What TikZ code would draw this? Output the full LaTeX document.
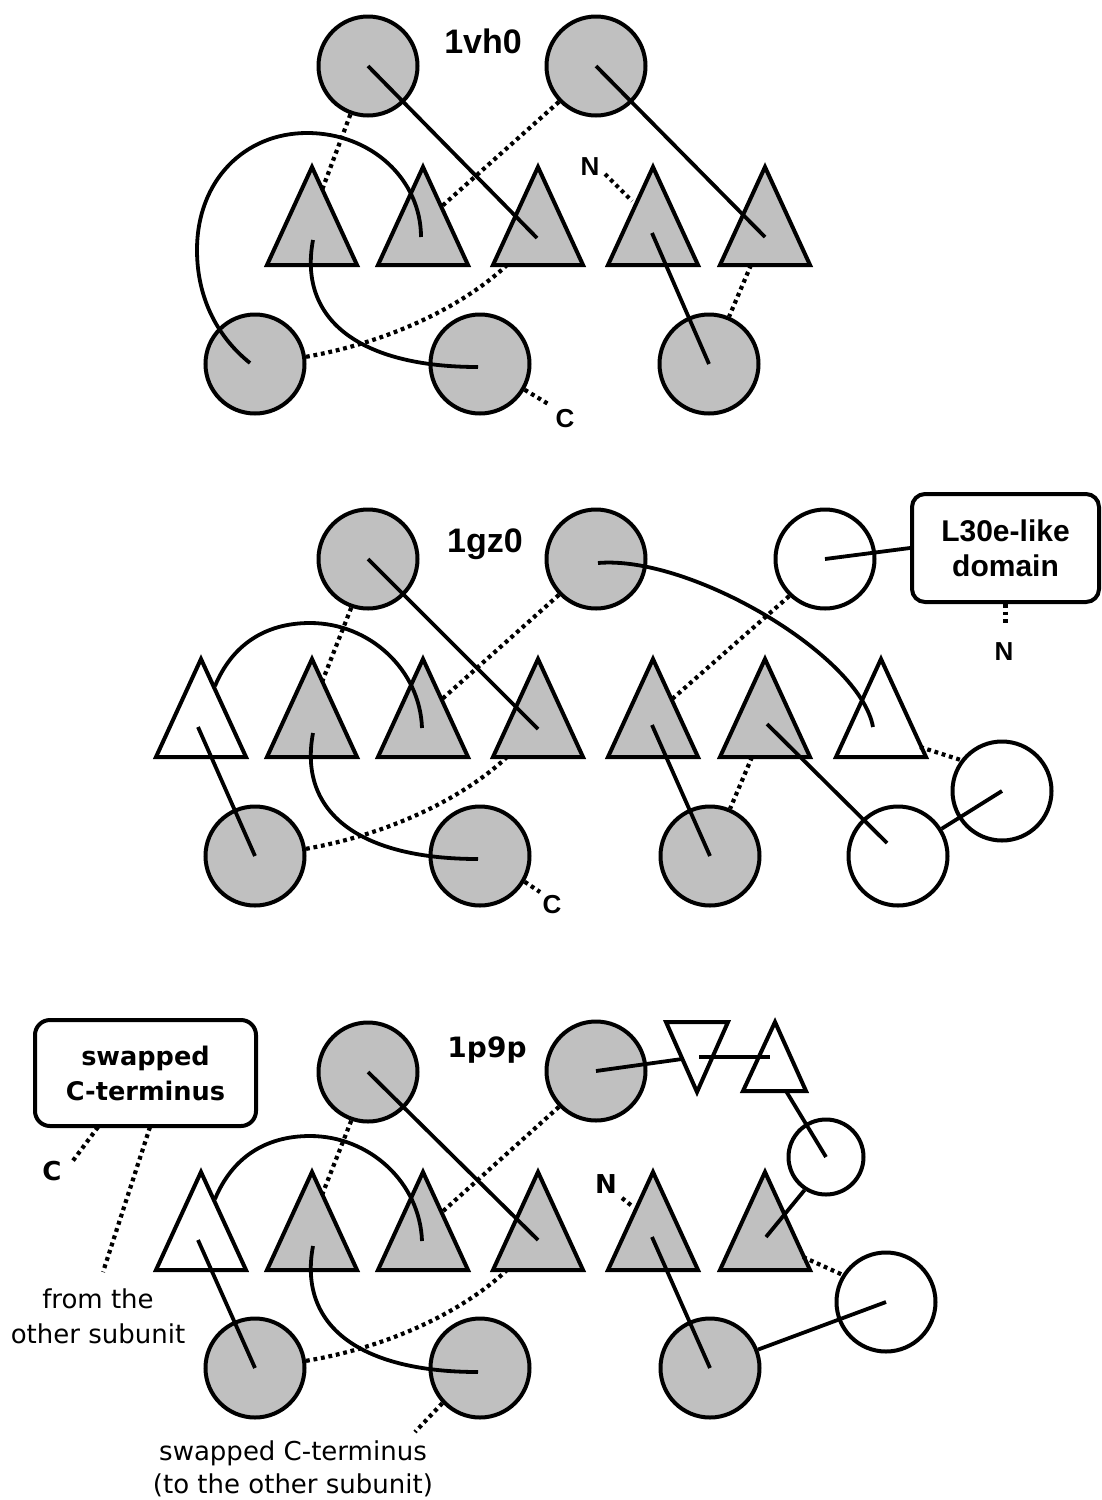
\documentclass[tikz,border=0pt]{standalone}
\usepackage{fontspec}
\setmainfont{Liberation Sans}
\newfontfamily\dvs{DejaVu Sans}
\usetikzlibrary{calc}
\definecolor{shade}{RGB}{192,192,192}
\tikzset{
  shp/.style={line width=2pt,draw=black},
  gc/.style={circle,shp,fill=shade,minimum size=49.5pt,inner sep=0pt},
  wc/.style={circle,shp,fill=white,minimum size=49.5pt,inner sep=0pt},
  sc/.style={circle,shp,fill=white,minimum size=37.5pt,inner sep=0pt},
  con/.style={line width=1.9pt},
  dotc/.style={line width=2.1pt,dash pattern=on 1.9pt off 1.9pt},
  pid/.style={font=\bfseries\fontsize{17}{20}\selectfont,anchor=base,inner sep=0pt},
  pidb/.style={font=\dvs\bfseries\fontsize{14}{17}\selectfont,anchor=base,inner sep=0pt},
  term/.style={font=\bfseries\fontsize{13}{15}\selectfont,anchor=base,inner sep=0pt},
  termb/.style={font=\dvs\bfseries\fontsize{13}{15}\selectfont,anchor=base,inner sep=0pt},
  note/.style={font=\dvs\fontsize{13}{16}\selectfont,anchor=base,inner sep=0pt},
  callout/.style={shp,fill=white,rounded corners=6.5pt,inner sep=0pt,align=center}
}
\newcommand\mytri[4]{%
  \filldraw[shp,fill=#4] (#2-45,#3) -- (#2,#3-98) -- (#2+45,#3) -- cycle;
  \coordinate (#1) at (#2,#3);}
\begin{document}
\begin{tikzpicture}[x=0.5pt,y=-0.5pt]
\path[fill=white] (0,0) rectangle (1102,1500);
\useasboundingbox (0,0) rectangle (1102,1500);

% ================= panel 1: 1vh0 =================
\mytri{t11}{312}{265}{shade}
\mytri{t12}{423}{265}{shade}
\mytri{t13}{538}{265}{shade}
\mytri{t14}{653}{265}{shade}
\mytri{t15}{765}{265}{shade}
\node[gc] (a1) at (368,66) {};
\node[gc] (b1) at (596,66) {};
\node[gc] (c11) at (255,364) {};
\node[gc] (c12) at (480,364) {};
\node[gc] (c13) at (709,364) {};
\node[pid] (id1) at (483,53) {1vh0};
\node[term] (n1) at (590,175) {N};
\node[term] (cc1) at (565,427) {C};

\coordinate (p1a) at (537,238);
\coordinate (p1b) at (765,237);
\coordinate (p1c) at (322,190);
\coordinate (p1d) at (441,207);
\coordinate (p1e) at (250,363);
\coordinate (p1f) at (421,237);
\coordinate (p1g) at (313,240);
\coordinate (p1h) at (478,367);
\coordinate (p1i) at (507,265);
\coordinate (p1j) at (550,405);
\coordinate (p1k) at (605,174);
\coordinate (p1l) at (632,201);
\coordinate (p1m) at (652,233);
\coordinate (p1n) at (751,265);

\draw[con] (a1.center) -- (p1a);
\draw[con] (b1.center) -- (p1b);
\draw[dotc] (a1.-110) -- (p1c);
\draw[dotc] (b1.-136) -- (p1d);
\draw[con] (p1e) .. controls (215,335) and (197,295) .. (197,250)
  .. controls (197,180) and (245,133) .. (307,133)
  .. controls (372,133) and (421,180) .. (p1f);
\draw[con] (p1g) .. controls (298,320) and (360,367) .. (p1h);
\draw[dotc] (c11.8) .. controls (400,340) and (470,300) .. (p1i);
\draw[dotc] (c12.-30) -- (p1j);
\draw[dotc] (p1k) -- (p1l);
\draw[con] (p1m) -- (c13.center);
\draw[dotc] (p1n) -- (c13.67);

% ================= panel 2: 1gz0 =================
\mytri{t21}{201}{757}{white}
\mytri{t22}{312}{757}{shade}
\mytri{t23}{423}{757}{shade}
\mytri{t24}{538}{757}{shade}
\mytri{t25}{653}{757}{shade}
\mytri{t26}{765}{757}{shade}
\mytri{t27}{881}{757}{white}
\node[gc] (a2) at (368,559) {};
\node[gc] (b2) at (596,559) {};
\node[wc] (w21) at (825,559) {};
\node[gc] (c21) at (255,856) {};
\node[gc] (c22) at (480,856) {};
\node[gc] (c23) at (710,856) {};
\node[wc] (w22) at (898,856) {};
\node[wc] (w23) at (1002,791) {};
\node[callout,minimum width=93.5pt,minimum height=54pt,
  font=\bfseries\fontsize{15}{17.5}\selectfont] (bx2) at (1005.5,548) {L30e-like\\domain};
\node[pid] (id2) at (485,552) {1gz0};
\node[term] (cc2) at (552,913) {C};
\node[term] (n2) at (1004,660) {N};

\coordinate (p2a) at (538,729);
\coordinate (p2b) at (322,682);
\coordinate (p2c) at (441,700);
\coordinate (p2d) at (215,686);
\coordinate (p2e) at (422,728);
\coordinate (p2f) at (313,733);
\coordinate (p2g) at (478,859);
\coordinate (p2h) at (198,727);
\coordinate (p2i) at (507,757);
\coordinate (p2j) at (540,892);
\coordinate (p2k) at (598,563);
\coordinate (p2l) at (873,727);
\coordinate (p2m) at (1005.5,624);
\coordinate (p2n) at (671,700);
\coordinate (p2o) at (652,725);
\coordinate (p2p) at (752,757);
\coordinate (p2q) at (767,724);
\coordinate (p2r) at (887,843);
\coordinate (p2s) at (920,747);

\draw[con] (a2.center) -- (p2a);
\draw[dotc] (a2.-109) -- (p2b);
\draw[dotc] (b2.-136) -- (p2c);
\draw[con] (p2d) .. controls (232,645) and (265,623) .. (310,623)
  .. controls (370,623) and (420,670) .. (p2e);
\draw[con] (p2f) .. controls (298,813) and (360,859) .. (p2g);
\draw[con] (p2h) -- (c21.center);
\draw[dotc] (c21.8) .. controls (400,832) and (470,792) .. (p2i);
\draw[dotc] (c22.-30) -- (p2j);
\draw[con] (p2k) .. controls (690,555) and (860,655) .. (p2l);
\draw[con] (w21.center) -- (bx2.west);
\draw[dotc] (bx2.south) -- (p2m);
\draw[dotc] (w21.-134) -- (p2n);
\draw[con] (p2o) -- (c23.center);
\draw[dotc] (p2p) -- (c23.67);
\draw[con] (p2q) -- (p2r);
\draw[con] (w23.center) -- (w22.32);
\draw[dotc] (p2s) -- (w23.143);

% ================= panel 3: 1p9p =================
\mytri{t31}{201}{1270}{white}
\mytri{t32}{312}{1270}{shade}
\mytri{t33}{423}{1270}{shade}
\mytri{t34}{538}{1270}{shade}
\mytri{t35}{653}{1270}{shade}
\mytri{t36}{765}{1270}{shade}
\filldraw[shp,fill=white] (666,1022) -- (728,1022) -- (697,1092) -- cycle;
\coordinate (v3) at (697,1045);
\filldraw[shp,fill=white] (743,1091) -- (775,1022) -- (806,1091) -- cycle;
\coordinate (u3) at (775,1068);
\node[gc] (a3) at (368,1072) {};
\node[gc] (b3) at (596,1071) {};
\node[gc] (c31) at (255,1368) {};
\node[gc] (c32) at (480,1368) {};
\node[gc] (c33) at (710,1368) {};
\node[wc] (w34) at (886,1302) {};
\node[sc] (s3) at (826,1157) {};
\node[callout,rounded corners=7.5pt,minimum width=110.5pt,minimum height=53pt,
  font=\dvs\bfseries\fontsize{12.8}{17.5}\selectfont] (bx3) at (145.5,1073) {swapped\\C-terminus};
\node[pidb] (id3) at (487,1057) {1p9p};
\node[termb] (cc3) at (52,1180) {C};
\node[termb] (n3) at (606,1193) {N};
\node[note] (fr1) at (98,1308) {from the};
\node[note] (fr2) at (98,1343) {other subunit};
\node[note] (sw1) at (293,1460) {swapped C-terminus};
\node[note] (sw2) at (293,1493) {(to the other subunit)};

\coordinate (p3a) at (538,1240);
\coordinate (p3b) at (322,1195);
\coordinate (p3c) at (441,1213);
\coordinate (p3d) at (215,1199);
\coordinate (p3e) at (422,1241);
\coordinate (p3f) at (313,1246);
\coordinate (p3g) at (478,1372);
\coordinate (p3h) at (198,1240);
\coordinate (p3i) at (507,1270);
\coordinate (p3j) at (415,1432);
\coordinate (p3k) at (682,1059);
\coordinate (p3l) at (699,1057);
\coordinate (p3m) at (770,1057);
\coordinate (p3n) at (786,1091);
\coordinate (p3o) at (766,1237);
\coordinate (p3p) at (622,1198);
\coordinate (p3q) at (632,1206);
\coordinate (p3r) at (652,1237);
\coordinate (p3s) at (803,1257);
\coordinate (p3t) at (98,1127);
\coordinate (p3u) at (72,1162);
\coordinate (p3v) at (150,1127);
\coordinate (p3w) at (103,1272);

\draw[con] (a3.center) -- (p3a);
\draw[dotc] (a3.-109) -- (p3b);
\draw[dotc] (b3.-136) -- (p3c);
\draw[con] (p3d) .. controls (232,1158) and (265,1136) .. (310,1136)
  .. controls (370,1136) and (420,1183) .. (p3e);
\draw[con] (p3f) .. controls (298,1326) and (360,1372) .. (p3g);
\draw[con] (p3h) -- (c31.center);
\draw[dotc] (c31.8) .. controls (400,1345) and (470,1305) .. (p3i);
\draw[dotc] (c32.-137) -- (p3j);
\draw[con] (b3.center) -- (p3k);
\draw[con] (p3l) -- (p3m);
\draw[con] (p3n) -- (s3.center);
\draw[con] (s3.-123) -- (p3o);
\draw[dotc] (p3p) -- (p3q);
\draw[con] (p3r) -- (c33.center);
\draw[con] (c33.21) -- (w34.center);
\draw[dotc] (p3s) -- (w34.148);
\draw[dotc] (p3t) -- (p3u);
\draw[dotc] (p3v) -- (p3w);
\end{tikzpicture}
\end{document}
